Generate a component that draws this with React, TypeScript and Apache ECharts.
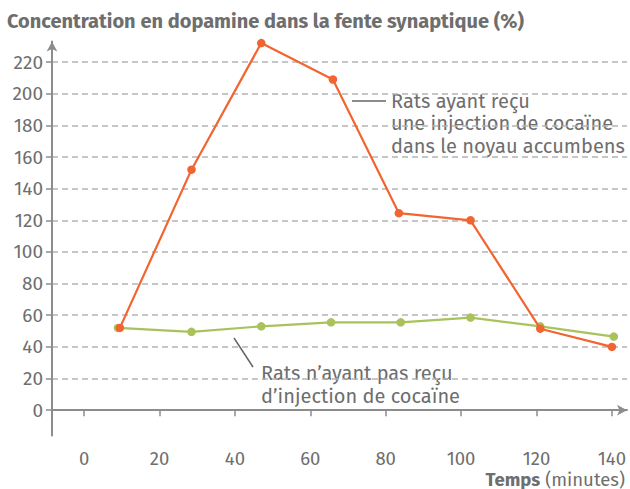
import React, { useEffect, useRef } from "react";
import * as echarts from "echarts";

const xCocaine = [9.5, 28.5, 47, 66, 83.5, 102.5, 121, 140];
const yCocaine = [52, 152, 232, 209, 124.5, 120, 51.5, 40];
const xControl = [9, 28.5, 47, 65.5, 84, 102.5, 121, 140.5];
const yControl = [52, 49.5, 53, 55.5, 55.5, 58.5, 53, 46.5];
const yTicks = [0, 20, 40, 60, 80, 100, 120, 140, 160, 180, 200, 220];
const xTicks = [0, 20, 40, 60, 80, 100, 120, 140];

const FONT = "'Fira Sans', 'Open Sans', 'Noto Sans', sans-serif";
const GRAY = "#6e6e6e";
const AXIS = "#8c8c8c";

export default function App() {
  const ref = useRef<HTMLDivElement>(null);
  useEffect(() => {
    const chart = echarts.init(ref.current!, null, { renderer: "svg" });
    chart.setOption({
      animation: false,
      textStyle: { fontFamily: FONT },
      title: {
        text: "Concentration en dopamine dans la fente synaptique (%)",
        left: 7,
        top: 11,
        padding: 0,
        textStyle: { fontFamily: FONT, fontSize: 20, fontWeight: "bold", color: GRAY },
      },
      grid: { left: 52, right: 3, top: 41.5, bottom: 53.5, containLabel: false },
      xAxis: {
        type: "value",
        min: -8.5,
        max: 144,
        axisLine: { show: true, lineStyle: { color: AXIS, width: 2 }, symbol: ["none", "arrow"], symbolSize: [8, 10] },
        axisTick: { show: true, customValues: xTicks, length: 6, lineStyle: { color: AXIS, width: 1.5 } },
        axisLabel: { customValues: xTicks, color: GRAY, fontSize: 18.5, margin: 14, fontFamily: FONT },
        splitLine: { show: false },
      },
      yAxis: {
        type: "value",
        min: -16,
        max: 233,
        axisLine: { show: true, onZero: false, lineStyle: { color: AXIS, width: 2 }, symbol: ["none", "arrow"], symbolSize: [8, 10] },
        axisTick: { show: true, customValues: yTicks, length: 6, lineStyle: { color: AXIS, width: 1.5 } },
        axisLabel: { customValues: yTicks, color: GRAY, fontSize: 19, margin: 9, fontFamily: FONT },
        splitLine: { show: true, lineStyle: { color: "#b4b4b4", type: [6, 4], width: 1.5 } },
      },
      series: [
        {
          type: "line",
          data: xControl.map((x, i) => [x, yControl[i]]),
          symbol: "circle",
          symbolSize: 8.5,
          itemStyle: { color: "#a8c25c" },
          lineStyle: { color: "#a8c25c", width: 2.2 },
          z: 3,
        },
        {
          type: "line",
          data: xCocaine.map((x, i) => [x, yCocaine[i]]),
          symbol: "circle",
          symbolSize: 8.5,
          itemStyle: { color: "#f26430" },
          lineStyle: { color: "#f26430", width: 2.2 },
          z: 4,
        },
      ],
      graphic: [
        { type: "line", shape: { x1: 352, y1: 101, x2: 386, y2: 101 }, style: { stroke: "#666", lineWidth: 1.5 } },
        {
          type: "text",
          left: 391,
          top: 89.5,
          style: { text: "Rats ayant reçu\nune injection de cocaïne\ndans le noyau accumbens", fill: GRAY, fontSize: 20, lineHeight: 22.5, fontFamily: FONT },
        },
        { type: "line", shape: { x1: 234, y1: 338, x2: 253, y2: 367 }, style: { stroke: "#666", lineWidth: 1.5 } },
        {
          type: "text",
          left: 261,
          top: 361.5,
          style: { text: "Rats n’ayant pas reçu\nd’injection de cocaïne", fill: GRAY, fontSize: 20, lineHeight: 23, fontFamily: FONT },
        },
        {
          type: "text",
          right: 5,
          top: 470,
          style: {
            text: "{b|Temps} (minutes)",
            fill: GRAY,
            fontSize: 18.5,
            fontFamily: FONT,
            rich: { b: { fontWeight: "bold", fontSize: 18.5, fill: GRAY, fontFamily: FONT } },
          },
        },
      ],
    });
    return () => chart.dispose();
  }, []);
  return <div ref={ref} style={{ width: 630, height: 489, position: "absolute", left: 0, top: 0 }} />;
}
